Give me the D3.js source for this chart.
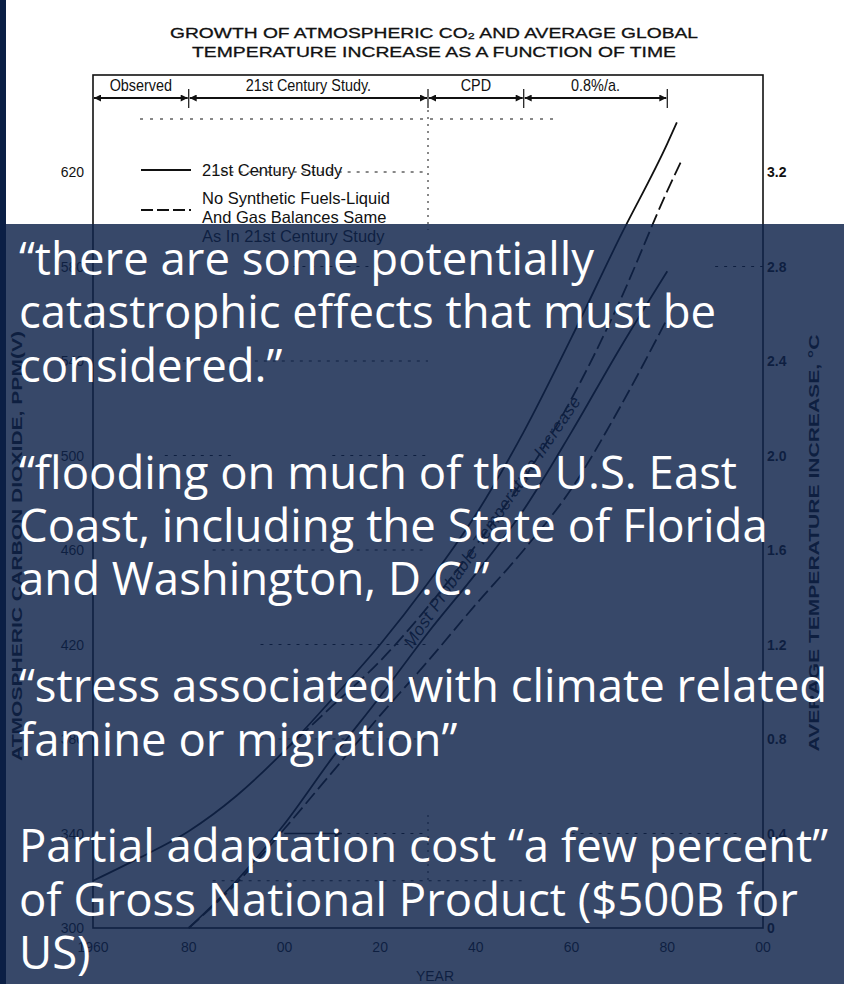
<!DOCTYPE html>
<html><head><meta charset="utf-8">
<script src="https://cdn.jsdelivr.net/npm/d3@7"></script>
<style>
html,body{margin:0;padding:0;background:#fff;}
svg{display:block;}
</style></head>
<body>
<svg id="c" width="844" height="984"></svg>
<script>
// ---------- data ----------
const titleLines = ["GROWTH OF ATMOSPHERIC CO\u2082 AND AVERAGE GLOBAL", "TEMPERATURE INCREASE AS A FUNCTION OF TIME"];
const yearTicks = [1960, 1980, 2000, 2020, 2040, 2060, 2080, 2100];
const yearTickLabels = ["1960", "80", "00", "20", "40", "60", "80", "00"];
const co2Ticks = [300, 340, 380, 420, 460, 500, 540, 580, 620];
const tempTickLabels = ["0", "0.4", "0.8", "1.2", "1.6", "2.0", "2.4", "2.8", "3.2"];
const periods = ["Observed", "21st Century Study.", "CPD", "0.8%/a."];
const periodBounds = [1960, 1980, 2030, 2050, 2080];
const legendItems = ["21st Century Study", "No Synthetic Fuels-Liquid|And Gas Balances Same|As In 21st Century Study"];

const co2Years = [1960, 1970, 1980, 1990, 2000, 2010, 2020, 2030, 2040, 2050, 2060, 2070, 2080, 2082];
const co2Solid = [320, 330, 341, 356, 375, 397, 420, 446, 475, 510, 550, 592, 632, 641];
const co2DashYears = [2000, 2010, 2020, 2030, 2040, 2050, 2060, 2070, 2080, 2083];
const co2Dashed = [375, 394, 413, 436, 462, 490, 524, 565, 612, 625];
const tempYears = [1980, 1990, 2000, 2010, 2020, 2030, 2040, 2050, 2060, 2070, 2080];
const tempSolid = [0, 0.2, 0.44, 0.72, 0.98, 1.25, 1.5, 1.77, 2.1, 2.45, 2.78];
const tempDashed = [0, 0.19, 0.42, 0.66, 0.9, 1.13, 1.37, 1.6, 1.86, 2.2, 2.58];

const quotes = [
  "\u201Cthere are some potentially",
  "catastrophic effects that must be",
  "considered.\u201D",
  "",
  "\u201Cflooding on much of the U.S. East",
  "Coast, including the State of Florida",
  "and Washington, D.C.\u201D",
  "",
  "\u201Cstress associated with climate related",
  "famine or migration\u201D",
  "",
  "Partial adaptation cost \u201Ca few percent\u201D",
  "of Gross National Product ($500B for",
  "US)"
];

// ---------- drawing ----------
const svg = d3.select("#c");
const ink = "#111";
const font = "'Liberation Sans', Arial, sans-serif";
svg.append("rect").attr("width", 844).attr("height", 984).attr("fill", "#fff");

const x = d3.scaleLinear().domain([1960, 2100]).range([93, 763]);
const y = d3.scaleLinear().domain([300, 620]).range([928, 172]);
const yT = d3.scaleLinear().domain([0, 3.2]).range([928, 172]);

const g = svg.append("g");

// title
g.selectAll("text.title").data(titleLines).join("text")
  .attr("x", 434).attr("y", (d, i) => 38 + i * 19)
  .attr("text-anchor", "middle").attr("font-family", font).attr("font-size", 15)
  .attr("fill", ink).attr("stroke", ink).attr("stroke-width", 0.3)
  .attr("textLength", (d, i) => i === 0 ? 528 : 484).attr("lengthAdjust", "spacingAndGlyphs")
  .text(d => d);

// frame
g.append("rect").attr("x", 93).attr("y", 75).attr("width", 670).attr("height", 853)
  .attr("fill", "none").attr("stroke", ink).attr("stroke-width", 1.6);

// dotted grid remnants
const gridSegs = [[620, 1985, 2030], [580, 2000, 2020], [580, 2090, 2100], [540, 1975, 2030], [500, 1975, 1990], [500, 2010, 2030], [460, 1985, 2030], [420, 1995, 2030], [380, 1995, 2030], [340, 2000, 2030], [340, 2060, 2095], [320, 1985, 2050]];
g.selectAll("line.grid").data(gridSegs).join("line")
  .attr("x1", d => x(d[1])).attr("x2", d => x(d[2]))
  .attr("y1", d => y(d[0])).attr("y2", d => y(d[0]))
  .attr("stroke", ink).attr("stroke-width", 1).attr("stroke-dasharray", "3,6");
g.append("line").attr("x1", x(2030)).attr("x2", x(2030)).attr("y1", 110).attr("y2", 230)
  .attr("stroke", ink).attr("stroke-dasharray", "2,5");
g.append("line").attr("x1", x(2030)).attr("x2", x(2030)).attr("y1", 815).attr("y2", 880)
  .attr("stroke", ink).attr("stroke-dasharray", "2,5");
g.append("line").attr("x1", 140).attr("x2", 560).attr("y1", 119).attr("y2", 119)
  .attr("stroke", ink).attr("stroke-dasharray", "3,7");

// period header arrows
const defs = svg.append("defs");
defs.append("marker").attr("id", "ah").attr("viewBox", "0 0 10 10").attr("refX", 10).attr("refY", 5)
  .attr("markerWidth", 10).attr("markerHeight", 7).attr("orient", "auto-start-reverse")
  .attr("markerUnits", "userSpaceOnUse")
  .append("path").attr("d", "M0,0L10,5L0,10Z").attr("fill", ink);
const segs = d3.range(periods.length).map(i => ({ a: periodBounds[i], b: periodBounds[i + 1], label: periods[i] }));
g.selectAll("line.seg").data(segs).join("line")
  .attr("x1", d => x(d.a) + 1).attr("x2", d => x(d.b) - 1).attr("y1", 98).attr("y2", 98)
  .attr("stroke", ink).attr("stroke-width", 1.8)
  .attr("marker-start", "url(#ah)").attr("marker-end", "url(#ah)");
g.selectAll("text.seg").data(segs).join("text")
  .attr("x", d => (x(d.a) + x(d.b)) / 2).attr("y", 91).attr("text-anchor", "middle")
  .attr("font-family", font).attr("font-size", 16).attr("fill", ink)
  .attr("transform", d => `translate(${(x(d.a) + x(d.b)) / 2},0) scale(0.9,1) translate(${-(x(d.a) + x(d.b)) / 2},0)`)
  .text(d => d.label);
g.selectAll("line.div").data(periodBounds.slice(1)).join("line")
  .attr("x1", d => x(d)).attr("x2", d => x(d)).attr("y1", 89).attr("y2", 108)
  .attr("stroke", ink).attr("stroke-width", 1.2);

// axes labels
g.selectAll("text.yl").data(co2Ticks).join("text")
  .attr("x", 84).attr("y", d => y(d) + 5).attr("text-anchor", "end")
  .attr("font-family", font).attr("font-size", 14).attr("fill", ink).text(d => d);
g.selectAll("text.yr").data(co2Ticks).join("text")
  .attr("x", 767).attr("y", d => y(d) + 5)
  .attr("font-family", font).attr("font-size", 14).attr("font-weight", "bold").attr("fill", ink)
  .text((d, i) => tempTickLabels[i]);
g.selectAll("text.xl").data(yearTicks).join("text")
  .attr("x", d => x(d)).attr("y", 952).attr("text-anchor", "middle")
  .attr("font-family", font).attr("font-size", 14).attr("fill", ink)
  .text((d, i) => yearTickLabels[i]);
g.append("text").attr("x", 435).attr("y", 981).attr("text-anchor", "middle")
  .attr("font-family", font).attr("font-size", 14).attr("fill", ink).text("YEAR");
g.append("text").attr("transform", "translate(22,546) rotate(-90)").attr("text-anchor", "middle")
  .attr("font-family", font).attr("font-size", 15).attr("font-weight", "bold").attr("fill", ink)
  .attr("textLength", 430).attr("lengthAdjust", "spacingAndGlyphs").text("ATMOSPHERIC CARBON DIOXIDE, PPM(V)");
g.append("text").attr("transform", "translate(819,543) rotate(-90)").attr("text-anchor", "middle")
  .attr("font-family", font).attr("font-size", 15).attr("font-weight", "bold").attr("fill", ink)
  .attr("textLength", 417).attr("lengthAdjust", "spacingAndGlyphs").text("AVERAGE TEMPERATURE INCREASE, \u00B0C");

// legend
g.append("line").attr("x1", 141).attr("x2", 191).attr("y1", 170).attr("y2", 170).attr("stroke", ink).attr("stroke-width", 2);
g.append("text").attr("x", 202).attr("y", 176).attr("font-family", font).attr("font-size", 16.5).attr("fill", ink).text(legendItems[0]);
g.append("line").attr("x1", 141).attr("x2", 191).attr("y1", 210).attr("y2", 210).attr("stroke", ink).attr("stroke-width", 2).attr("stroke-dasharray", "12,4");
g.selectAll("text.lg2").data(legendItems[1].split("|")).join("text")
  .attr("x", 202).attr("y", (d, i) => 204 + i * 19).attr("font-family", font).attr("font-size", 16.5).attr("fill", ink).text(d => d);

// curves
const lineCO2 = d3.line().x(d => x(d[0])).y(d => y(d[1])).curve(d3.curveMonotoneX);
const lineT = d3.line().x(d => x(d[0])).y(d => yT(d[1])).curve(d3.curveMonotoneX);
g.append("path").attr("d", lineCO2(d3.zip(co2Years, co2Solid))).attr("fill", "none").attr("stroke", ink).attr("stroke-width", 1.8);
g.append("path").attr("d", lineCO2(d3.zip(co2DashYears, co2Dashed))).attr("fill", "none").attr("stroke", ink).attr("stroke-width", 1.8).attr("stroke-dasharray", "14,5");
g.append("path").attr("d", lineT(d3.zip(tempYears, tempSolid))).attr("fill", "none").attr("stroke", ink).attr("stroke-width", 1.8);
g.append("path").attr("d", lineT(d3.zip(tempYears, tempDashed))).attr("fill", "none").attr("stroke", ink).attr("stroke-width", 1.8).attr("stroke-dasharray", "14,5");
g.append("line").attr("x1", x(2000)).attr("x2", x(2012)).attr("y1", yT(0.4)).attr("y2", yT(0.4))
  .attr("stroke", ink).attr("stroke-width", 1.6).attr("marker-end", "url(#ah)");
g.append("text").attr("transform", `translate(${x(2026.7)},${yT(1.18)}) rotate(-55.7)`)
  .attr("font-family", font).attr("font-size", 17).attr("font-style", "italic").attr("fill", ink)
  .attr("textLength", 300).attr("lengthAdjust", "spacing")
  .text("Most Probable Temperature Increase");

// overlay
svg.append("rect").attr("x", 6).attr("y", 224).attr("width", 838).attr("height", 760)
  .attr("fill", "rgb(15,35,75)").attr("fill-opacity", 0.83);
svg.append("rect").attr("x", 0).attr("y", 0).attr("width", 6).attr("height", 984).attr("fill", "#0b1f45");

svg.selectAll("text.q").data(quotes).join("text")
  .attr("x", 19).attr("y", (d, i) => 275 + i * 53.4)
  .attr("font-family", "'Open Sans', sans-serif").attr("font-size", 45.5).attr("fill", "#fff")
  .text(d => d);
</script>
</body></html>
